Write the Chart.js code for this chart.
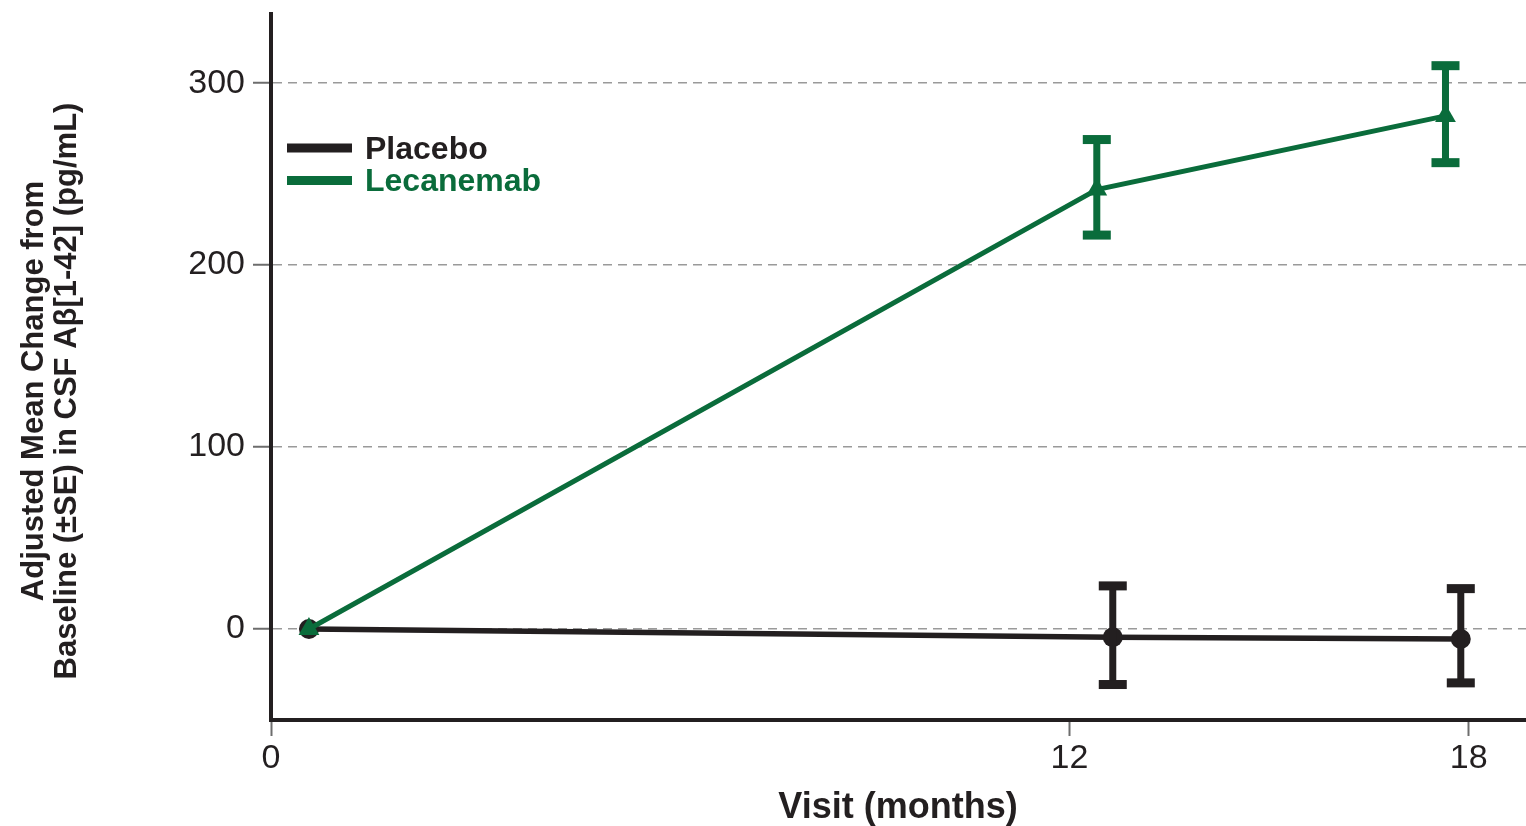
<!DOCTYPE html>
<html>
<head>
<meta charset="utf-8">
<script src="https://cdn.jsdelivr.net/npm/chart.js@4.4.1/dist/chart.umd.min.js"></script>
<style>
  html, body { margin: 0; padding: 0; background: #fff; overflow: hidden; }
  #wrap { width: 1526px; height: 826px; position: relative; }
</style>
</head>
<body>
<div id="wrap"><canvas id="chart"></canvas></div>
<script>
// tick labels
const xTickValues = [0, 12, 18];
const yTickValues = [0, 100, 200, 300];

// series (x is slightly offset per group, as in the figure)
const placeboMonths = [0.57, 12.65, 17.88];
const placeboMean = [0, -4.5, -5.5];
const placeboUpper = [null, 23.7, 22.2];
const placeboLower = [null, -30.5, -29.6];

const lecanemabMonths = [0.57, 12.41, 17.65];
const lecanemabMean = [0, 241.5, 282];
const lecanemabUpper = [null, 269, 309.6];
const lecanemabLower = [null, 216.5, 256.3];

const BLACK = '#231f20';
const GREEN = '#0a6c3b';
const FONT = "'Liberation Sans', Arial, Helvetica, sans-serif";

function points(months, values) {
    return months.map((m, i) => ({ x: m, y: values[i] }));
}

// error bars drawn through the scales
const errorBars = {
    id: 'errorBars',
    afterDatasetsDraw(chart) {
        const { ctx, scales: { x, y } } = chart;
        ctx.save();
        chart.data.datasets.forEach(ds => {
            ds.data.forEach((p, i) => {
                if (ds.errUpper[i] == null) return;
                const px = x.getPixelForValue(p.x);
                const top = y.getPixelForValue(ds.errUpper[i]);
                const bot = y.getPixelForValue(ds.errLower[i]);
                ctx.fillStyle = ds.borderColor;
                ctx.fillRect(px - 3.5, top, 7, bot - top);
                ctx.fillRect(px - 14, top - 4.5, 28, 9);
                ctx.fillRect(px - 14, bot - 4.5, 28, 9);
            });
        });
        ctx.restore();
    }
};

// legend inside the plot + axis titles
const extras = {
    id: 'extras',
    afterDraw(chart) {
        const { ctx } = chart;
        ctx.save();
        const rows = [148, 180.5];
        chart.data.datasets.forEach((ds, i) => {
            ctx.fillStyle = ds.borderColor;
            ctx.fillRect(287, rows[i] - 4.5, 65, 9);
            ctx.font = 'bold 32px ' + FONT;
            ctx.textBaseline = 'middle';
            ctx.textAlign = 'left';
            ctx.fillText(ds.label, 365, rows[i] + 2);
        });

        ctx.fillStyle = BLACK;
        ctx.font = 'bold 36px ' + FONT;
        ctx.textAlign = 'center';
        ctx.textBaseline = 'alphabetic';
        ctx.fillText('Visit (months)', 898, 818);

        ctx.translate(0, 391);
        ctx.rotate(-Math.PI / 2);
        ctx.font = 'bold 31px ' + FONT;
        ctx.fillText('Adjusted Mean Change from', 0, 43);
        ctx.fillText('Baseline (\u00b1SE) in CSF A\u03b2[1-42] (pg/mL)', 0, 76);
        ctx.restore();
    }
};

new Chart(document.getElementById('chart'), {
    type: 'line',
    data: {
        datasets: [
            {
                label: 'Placebo',
                data: points(placeboMonths, placeboMean),
                errUpper: placeboUpper,
                errLower: placeboLower,
                borderColor: BLACK,
                backgroundColor: BLACK,
                borderWidth: 5.5,
                pointStyle: 'circle',
                pointRadius: 10,
                pointBorderWidth: 0,
                order: 2
            },
            {
                label: 'Lecanemab',
                data: points(lecanemabMonths, lecanemabMean),
                errUpper: lecanemabUpper,
                errLower: lecanemabLower,
                borderColor: GREEN,
                backgroundColor: GREEN,
                borderWidth: 5,
                pointStyle: 'triangle',
                pointRadius: 12,
                pointBorderWidth: 0,
                order: 1
            }
        ]
    },
    options: {
        responsive: true,
        maintainAspectRatio: false,
        animation: false,
        layout: {
            autoPadding: false,
            padding: { top: 14, left: 0, right: 0, bottom: 0 }
        },
        plugins: {
            legend: { display: false },
            tooltip: { enabled: false }
        },
        scales: {
            x: {
                type: 'linear',
                min: 0,
                max: 18.86,
                afterBuildTicks: scale => { scale.ticks = xTickValues.map(v => ({ value: v })); },
                afterFit: scale => {
                    scale.height = 106;
                    scale.paddingLeft = 0;
                    scale.paddingRight = 0;
                },
                grid: {
                    drawOnChartArea: false,
                    drawTicks: true,
                    tickLength: 16,
                    tickColor: '#6d6d6d',
                    tickWidth: 2
                },
                border: { display: true, color: BLACK, width: 4 },
                ticks: {
                    color: BLACK,
                    padding: 2,
                    font: { family: FONT, size: 34 },
                    maxRotation: 0
                }
            },
            y: {
                min: -50,
                max: 338,
                afterBuildTicks: scale => { scale.ticks = yTickValues.map(v => ({ value: v })); },
                afterFit: scale => {
                    scale.width = 271;
                    scale.paddingTop = 0;
                    scale.paddingBottom = 0;
                },
                grid: {
                    color: '#9a9a9a',
                    lineWidth: 1.5,
                    drawTicks: true,
                    tickLength: 18,
                    tickColor: '#6d6d6d',
                    tickWidth: 2
                },
                border: { display: true, color: BLACK, width: 4, dash: [9, 6] },
                ticks: {
                    color: BLACK,
                    padding: 8,
                    font: { family: FONT, size: 34 }
                }
            }
        }
    },
    plugins: [errorBars, extras]
});
</script>
</body>
</html>
